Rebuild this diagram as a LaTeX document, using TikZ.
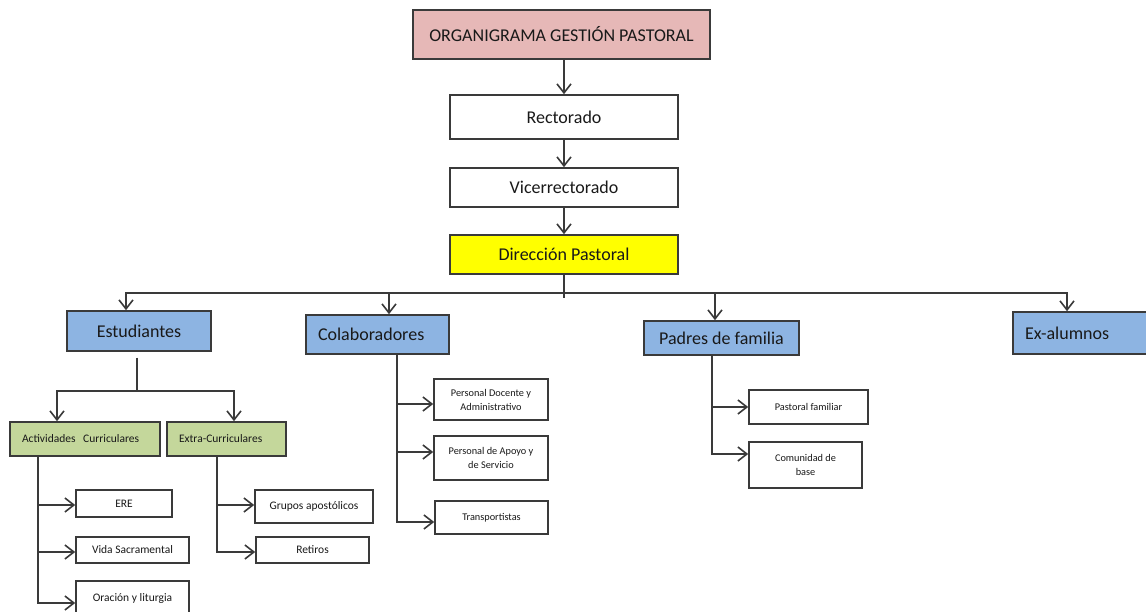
\documentclass[tikz,border=0pt]{standalone}
\usepackage{fontspec}
\setmainfont{Carlito}
\usetikzlibrary{arrows.meta}
\definecolor{bluebox}{HTML}{8DB4E2}
\definecolor{greenbox}{HTML}{C4D79B}
\definecolor{pinkbox}{HTML}{E6B8B7}
\definecolor{yelbox}{HTML}{FFFF00}
\definecolor{edge}{HTML}{3A3A3A}
\definecolor{conn}{HTML}{3A3A3A}
\tikzset{
  box/.style={draw=edge, line width=1.6pt, inner sep=0pt, align=center, text=black!90},
  big/.style={box, font=\fontsize{18}{20}\selectfont},
  mid/.style={box, font=\fontsize{11.5}{14}\selectfont},
  sml/.style={box, font=\fontsize{10.3}{14}\selectfont},
  conline/.style={draw=conn, line width=1.6pt},
  arr/.style={conline, -{Straight Barb[length=9pt,width=14pt,line width=1.6pt]}}
}
\begin{document}
\begin{tikzpicture}[x=1pt,y=-1pt]
\useasboundingbox (0,0) rectangle (1146,612);
\clip (0,0) rectangle (1146,612);
\fill[white] (0,0) rectangle (1146,612);

% top chain
\node[big, fill=pinkbox, minimum width=297pt, minimum height=49pt] (title) at (561.5,34.5) {ORGANIGRAMA GESTIÓN PASTORAL};
\node[big, fill=white, minimum width=228pt, minimum height=44pt] (rect) at (564,117) {Rectorado};
\node[big, fill=white, minimum width=228pt, minimum height=39pt] (vice) at (564,187.5) {Vicerrectorado};
\node[big, fill=yelbox, minimum width=228pt, minimum height=39pt] (dir) at (564,254.5) {Dirección Pastoral};

% second level
\node[big, fill=bluebox, minimum width=144pt, minimum height=40pt] (est) at (139,331) {Estudiantes};
\node[big, fill=bluebox, minimum width=143pt, minimum height=39pt, text width=119pt, inner xsep=12pt, align=left] (col) at (377.5,334.5) {Colaboradores};
\node[big, fill=bluebox, minimum width=155pt, minimum height=34pt] (pad) at (721.5,338) {Padres de familia};
\node[big, fill=bluebox, minimum width=140pt, minimum height=42pt, text width=116pt, inner xsep=12pt, align=left] (exa) at (1083,333) {Ex-alumnos};

% students branch
\node[mid, fill=greenbox, minimum width=150pt, minimum height=34pt, text width=126pt, inner xsep=12pt, align=left] (act) at (85,439) {Actividades\ \ Curriculares};
\node[mid, fill=greenbox, minimum width=119pt, minimum height=34pt, text width=95pt, inner xsep=12pt, align=left] (ext) at (226.5,439) {Extra-Curriculares};
\node[mid, fill=white, minimum width=96pt, minimum height=27pt] (ere) at (124,503.5) {ERE};
\node[mid, fill=white, minimum width=113pt, minimum height=26pt] (vida) at (132.5,550) {Vida Sacramental};
\node[mid, fill=white, minimum width=113pt, minimum height=34pt] (ora) at (132.5,598) {Oración y liturgia};
\node[mid, fill=white, minimum width=118pt, minimum height=33pt] (gru) at (314,506.5) {Grupos apostólicos};
\node[mid, fill=white, minimum width=113pt, minimum height=26pt] (ret) at (312.5,550) {Retiros};

% collaborators branch
\node[sml, fill=white, minimum width=114pt, minimum height=41pt] (pd) at (491,399.5) {Personal Docente y\\Administrativo};
\node[sml, fill=white, minimum width=114pt, minimum height=44pt] (pa) at (491,458) {Personal de Apoyo y\\de Servicio};
\node[sml, fill=white, minimum width=113pt, minimum height=33pt] (tr) at (491.5,517.5) {Transportistas};

% parents branch
\node[sml, fill=white, minimum width=119pt, minimum height=34pt] (pf) at (808.5,407) {Pastoral familiar};
\node[sml, fill=white, minimum width=113pt, minimum height=46pt] (cb) at (805.5,465) {Comunidad de\\base};

% connectors top chain
\draw[arr] (title.south -| rect.north) -- (rect.north);
\draw[arr] (rect.south) -- (vice.north);
\draw[arr] (vice.south) -- (dir.north);

% bus
\draw[conline] (dir.south) -- ++(0,23);
\draw[arr] (dir.south) -- ++(0,18) -| ([xshift=-13pt]est.north);
\draw[arr] (dir.south) -- ++(0,18) -| ([xshift=11.5pt]col.north);
\draw[arr] (dir.south) -- ++(0,18) -| ([xshift=-6.5pt]pad.north);
\draw[arr] (dir.south) -- ++(0,18) -| ([xshift=-16pt]exa.north);

% students children
\draw[arr] ([xshift=-2pt,yshift=-6pt]est.south) -- ++(0,33) -| ([xshift=-28pt]act.north);
\draw[arr] ([xshift=-2pt,yshift=-6pt]est.south) -- ++(0,33) -| ([xshift=7.5pt]ext.north);

\draw[arr] ([xshift=-47pt]act.south) |- ([yshift=-1.5pt]ere.west);
\draw[arr] ([xshift=-47pt]act.south) |- ([yshift=-2pt]vida.west);
\draw[arr] ([xshift=-47pt]act.south) |- ([yshift=-5pt]ora.west);

\draw[arr] ([xshift=-9.5pt]ext.south) |- ([yshift=1.5pt]gru.west);
\draw[arr] ([xshift=-9.5pt]ext.south) |- ([yshift=-2pt]ret.west);

% collaborators children
\draw[arr] ([xshift=19.5pt]col.south) |- ([yshift=-4.5pt]pd.west);
\draw[arr] ([xshift=19.5pt]col.south) |- ([yshift=6pt]pa.west);
\draw[arr] ([xshift=19.5pt]col.south) |- ([yshift=-4.5pt]tr.west);

% parents children
\draw[arr] ([xshift=-9.5pt]pad.south) |- (pf.west);
\draw[arr] ([xshift=-9.5pt]pad.south) |- ([yshift=11pt]cb.west);
\end{tikzpicture}
\end{document}
